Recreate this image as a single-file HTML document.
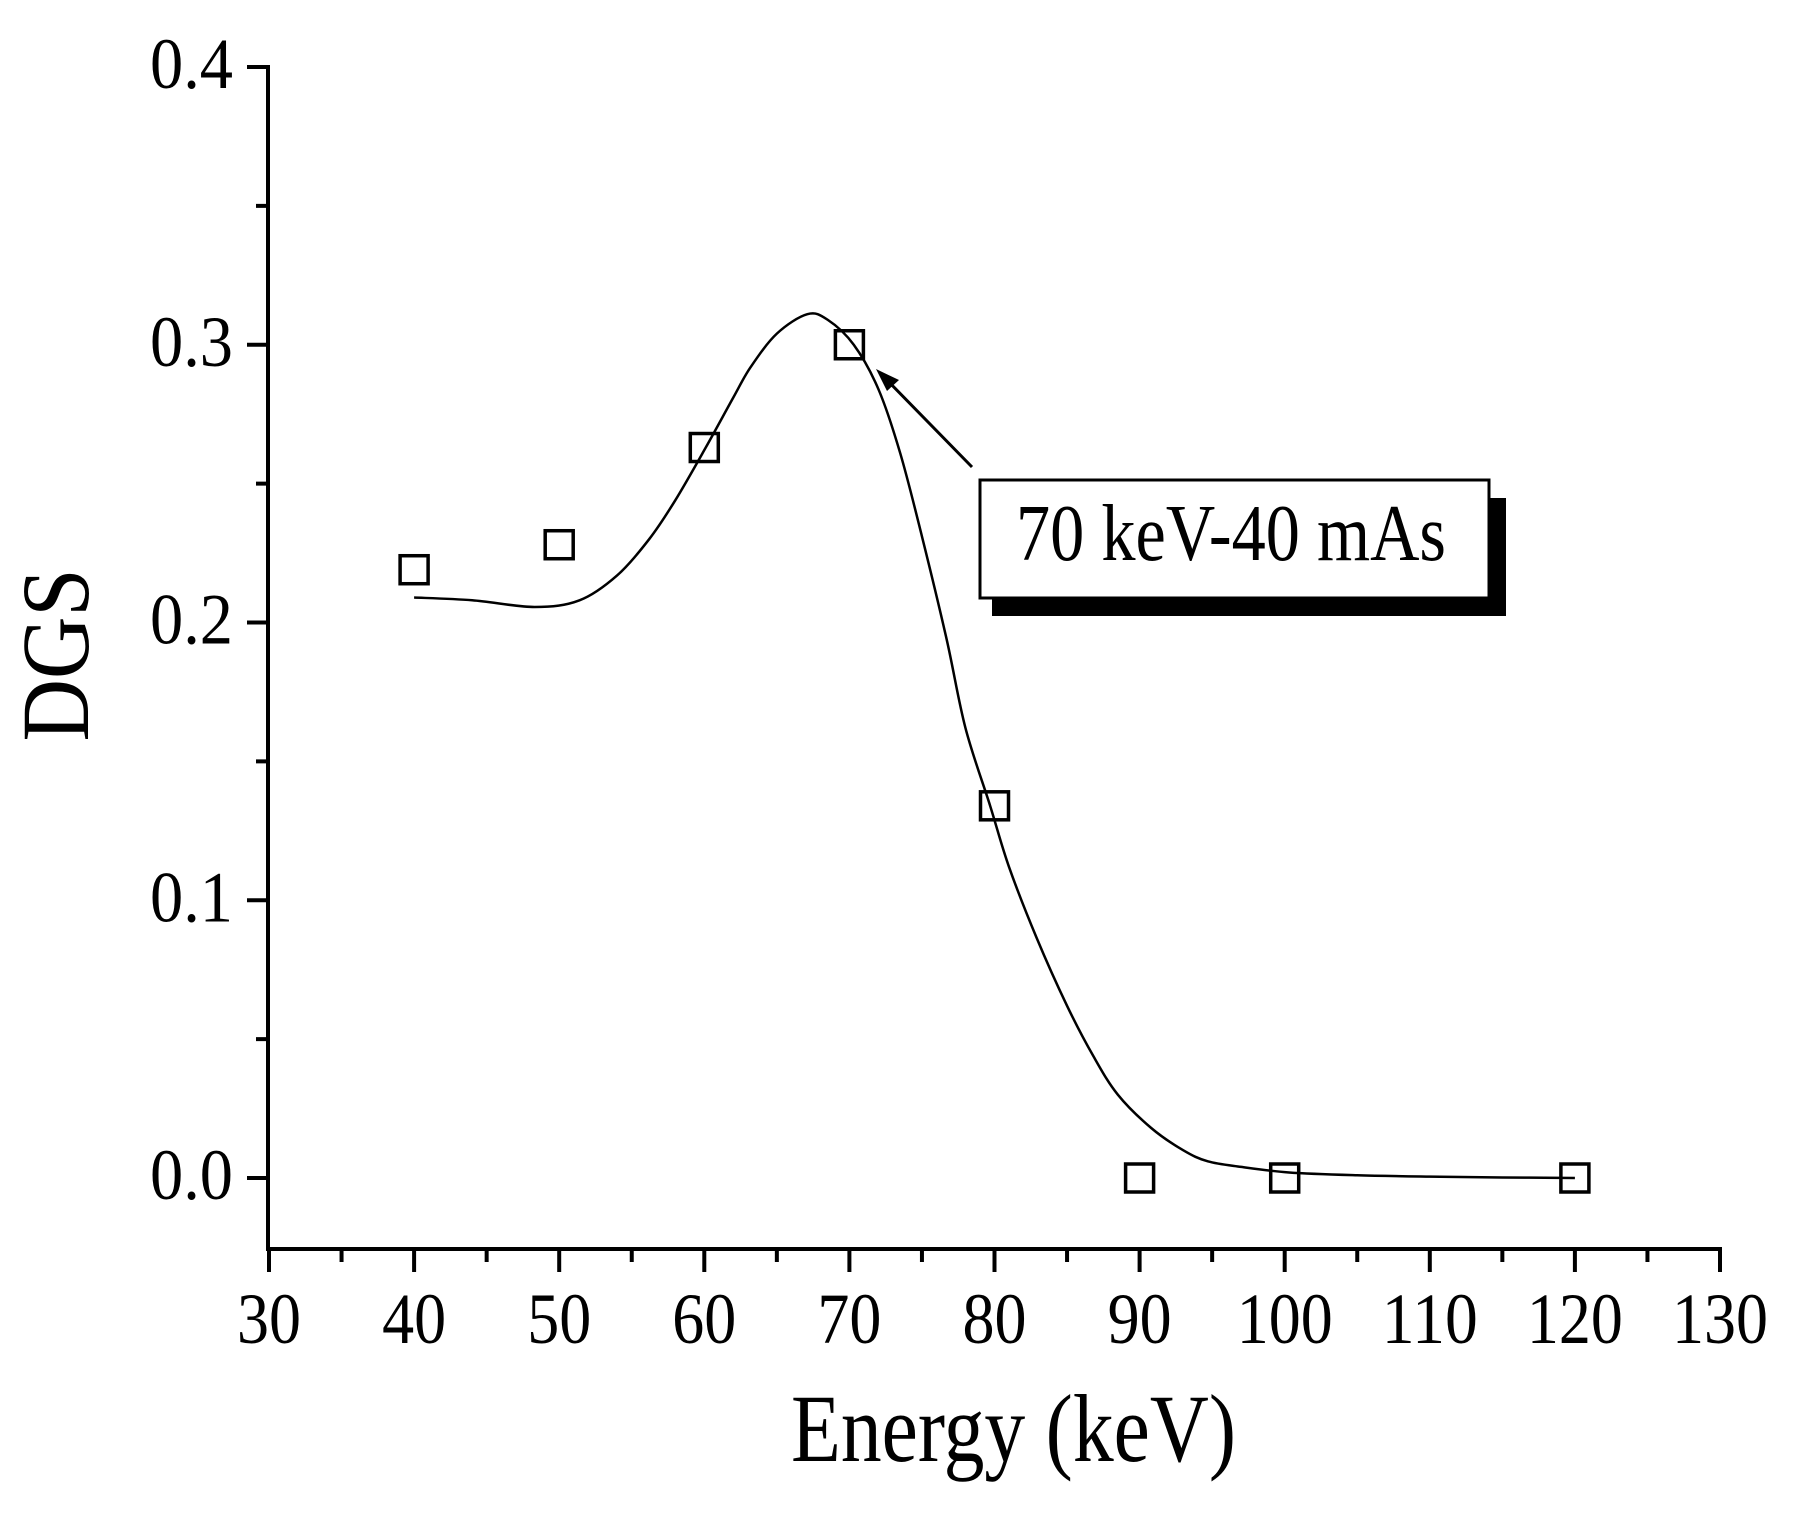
<!DOCTYPE html>
<html><head><meta charset="utf-8"><style>
html,body{margin:0;padding:0;background:#fff;}
svg{display:block;font-family:"Liberation Serif",serif;}
</style></head><body>
<svg id="chart" width="1805" height="1517" viewBox="0 0 1805 1517" xmlns="http://www.w3.org/2000/svg">
<g id="axes"></g>
<g id="plot"></g>
<text x="791" y="1461" font-size="96" textLength="445" lengthAdjust="spacingAndGlyphs">Energy (keV)</text>
<text x="0" y="0" font-size="96" text-anchor="middle" textLength="173" lengthAdjust="spacingAndGlyphs" transform="translate(88,655) rotate(-90)">DGS</text>
<g>
<rect x="992" y="498" width="514" height="118" fill="#000"/>
<rect x="980" y="480" width="509" height="118" fill="#fff" stroke="#000" stroke-width="3"/>
<text x="1016" y="560" font-size="80" textLength="430" lengthAdjust="spacingAndGlyphs">70 keV-40 mAs</text>
<line x1="972" y1="467" x2="884" y2="377" stroke="#000" stroke-width="3"/>
<polygon points="876,369 899,380 887,391" fill="#000"/>
</g>
</svg>
<script>
const xTicks=[30,40,50,60,70,80,90,100,110,120,130];
const yTicks=[0.0,0.1,0.2,0.3,0.4];
const yTickLabels=["0.0","0.1","0.2","0.3","0.4"];
const energies=[40,50,60,70,80,90,100,120];
const dgs=[0.219,0.228,0.263,0.300,0.134,0.0,0.0,0.0];
const fitX=[40,44,48.3,51.4,54,56.2,58,60.1,62,63.2,65,67.1,68.5,70.3,72,73.5,75,76.7,78,79.7,81,82.9,85,86.8,88.5,90.8,93,94.7,97,100.3,105,110,115,120];
const fitY=[0.209,0.208,0.2056,0.208,0.217,0.230,0.244,0.263,0.281,0.292,0.304,0.311,0.309,0.300,0.284,0.261,0.231,0.194,0.162,0.134,0.112,0.0865,0.062,0.044,0.030,0.018,0.010,0.006,0.004,0.002,0.001,0.0005,0.0002,0.0];
const NS="http://www.w3.org/2000/svg";
const sx=v=>269+(v-30)*(1720-269)/100;
const sy=v=>1178-v*(1178-67)/0.4;
function mk(tag,attrs,parent){const e=document.createElementNS(NS,tag);for(const k in attrs)e.setAttribute(k,attrs[k]);parent.appendChild(e);return e;}
const axes=document.getElementById('axes');
const plot=document.getElementById('plot');
let e=mk('line',{x1:268,y1:65,x2:268,y2:1251,stroke:'#000','stroke-width':4},axes);


e=mk('line',{x1:266,y1:1249,x2:1722,y2:1249,stroke:'#000','stroke-width':4},axes);


for(let v=30;v<=130;v+=5){const maj=(v%10===0);
 e=mk('line',{x1:sx(v),y1:1249,x2:sx(v),y2:maj?1272:1262,stroke:'#000','stroke-width':4},axes);
 
 }
xTicks.forEach(v=>{const s=String(v);e=mk('text',{x:sx(v),y:1343,'font-size':72,'text-anchor':'middle',textLength:s.length*32,lengthAdjust:'spacingAndGlyphs'},axes);e.textContent=s;
 
 });
for(let i=0;i<=8;i++){const v=i*0.05;const maj=(i%2===0);
 e=mk('line',{x1:maj?247:256,y1:sy(v),x2:268,y2:sy(v),stroke:'#000','stroke-width':4},axes);
 
 }
yTicks.forEach((v,i)=>{e=mk('text',{x:150,y:sy(v)+21,'font-size':72,textLength:83,lengthAdjust:'spacingAndGlyphs'},axes);e.textContent=yTickLabels[i];
 
 });
const P=fitX.map((x,i)=>[sx(x),sy(fitY[i])]);
let d='M'+P[0][0]+','+P[0][1];
for(let i=0;i<P.length-1;i++){const p0=P[Math.max(0,i-1)],p1=P[i],p2=P[i+1],p3=P[Math.min(P.length-1,i+2)];
 d+=` C${p1[0]+(p2[0]-p0[0])/6},${p1[1]+(p2[1]-p0[1])/6} ${p2[0]-(p3[0]-p1[0])/6},${p2[1]-(p3[1]-p1[1])/6} ${p2[0]},${p2[1]}`;}
e=mk('path',{d:d,fill:'none',stroke:'#000','stroke-width':2.5},plot);


energies.forEach((x,i)=>{const cx=sx(x),cy=sy(dgs[i]);
 e=mk('rect',{x:cx-14,y:cy-14,width:28,height:28,fill:'none',stroke:'#000','stroke-width':3.5},plot);
 
 });
</script>
</body></html>
